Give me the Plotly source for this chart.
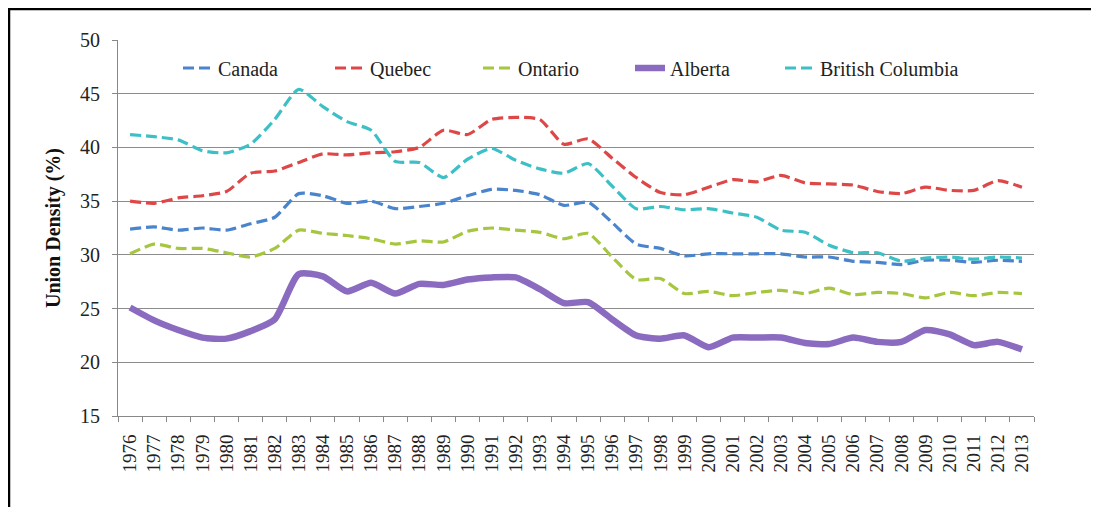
import plotly.graph_objects as go

years = [str(y) for y in range(1976, 2014)]

canada = [32.4, 32.6, 32.3, 32.5, 32.3, 32.9, 33.5, 35.7, 35.5, 34.8, 35.0, 34.3, 34.5, 34.8,
          35.5, 36.1, 36.0, 35.6, 34.6, 34.9, 33.0, 31.0, 30.6, 29.9, 30.1, 30.1, 30.1, 30.1,
          29.8, 29.8, 29.4, 29.3, 29.1, 29.5, 29.5, 29.3, 29.5, 29.4]
quebec = [35.0, 34.8, 35.3, 35.5, 35.9, 37.6, 37.8, 38.6, 39.4, 39.3, 39.5, 39.6, 40.0, 41.6,
          41.2, 42.6, 42.8, 42.6, 40.3, 40.8, 39.0, 37.2, 35.8, 35.6, 36.3, 37.0, 36.8, 37.4,
          36.7, 36.6, 36.5, 35.9, 35.7, 36.3, 36.0, 36.0, 36.9, 36.3]
ontario = [30.1, 31.0, 30.6, 30.6, 30.2, 29.8, 30.6, 32.3, 32.0, 31.8, 31.5, 31.0, 31.3, 31.2,
           32.2, 32.5, 32.3, 32.1, 31.5, 32.0, 29.8, 27.7, 27.8, 26.4, 26.6, 26.2, 26.5, 26.7,
           26.4, 26.9, 26.3, 26.5, 26.4, 26.0, 26.5, 26.2, 26.5, 26.4]
alberta = [25.1, 23.9, 23.0, 22.3, 22.2, 22.9, 24.0, 28.2, 28.0, 26.6, 27.4, 26.4, 27.3, 27.2,
           27.7, 27.9, 27.9, 26.8, 25.5, 25.6, 24.0, 22.5, 22.2, 22.5, 21.4, 22.3, 22.3, 22.3,
           21.8, 21.7, 22.3, 21.9, 21.9, 23.0, 22.6, 21.6, 21.9, 21.2]
bc = [41.2, 41.0, 40.7, 39.7, 39.5, 40.3, 42.6, 45.4, 43.8, 42.4, 41.6, 38.7, 38.6, 37.2,
      38.9, 39.9, 38.8, 38.0, 37.6, 38.5, 36.4, 34.3, 34.5, 34.2, 34.3, 33.9, 33.5, 32.3,
      32.1, 30.9, 30.2, 30.2, 29.4, 29.7, 29.8, 29.6, 29.8, 29.7]

series = [
    ("Canada", canada, "#4a84cc", 3.2, "11px,5px"),
    ("Quebec", quebec, "#de4747", 3.2, "11px,5px"),
    ("Ontario", ontario, "#a6c63f", 3.2, "11px,5px"),
    ("Alberta", alberta, "#8a6bbf", 6.5, "solid"),
    ("British Columbia", bc, "#3dbfc6", 3.2, "11px,5px"),
]

FONT = "Liberation Serif"

# page is offset by the body margin (8px); plot area in page px: x 118..1034, y 40..416
PL, PR, PT, PB = 118, 1034, 40, 416
OFF = 8
W, H = 1099 - OFF, 507 - OFF


def px_x(page_x):
    return (page_x - PL) / (PR - PL)


def px_y(page_y):
    return 1 - (page_y - PT) / (PB - PT)


legend_text_starts = [218, 370, 518, 670, 820]

fig = go.Figure()
legend_layouts = {}
for i, (name, vals, color, w, dash) in enumerate(series):
    key = "legend" if i == 0 else f"legend{i + 1}"
    fig.add_trace(go.Scatter(
        x=years, y=vals, name=name, mode="lines", legend=key,
        line=dict(color=color, width=w, dash=dash, shape="spline", smoothing=0.6),
    ))
    legend_layouts[key] = dict(
        x=px_x(legend_text_starts[i] - 40), y=px_y(68),
        xanchor="left", yanchor="middle", orientation="h",
        bgcolor="rgba(0,0,0,0)", borderwidth=0,
        font=dict(family=FONT, size=20, color="#222"),
    )

fig.update_layout(
    width=W, height=H,
    margin=dict(l=PL - OFF, r=W - (PR - OFF), t=PT - OFF, b=H - (PB - OFF)),
    paper_bgcolor="white", plot_bgcolor="white",
    font=dict(family=FONT, size=19, color="#222"),
    showlegend=True,
    xaxis=dict(
        type="category", range=[-0.5, 37.5],
        showgrid=False, showline=True, linecolor="#888", linewidth=1,
        ticks="outside", tickson="boundaries", ticklen=5, tickcolor="#888",
        tickangle=-90, tickfont=dict(family=FONT, size=19, color="#222"),
        ticklabelstandoff=10,
    ),
    yaxis=dict(
        range=[15, 50], tickvals=[15, 20, 25, 30, 35, 40, 45, 50],
        showgrid=True, gridcolor="#8c8c8c", gridwidth=1,
        showline=True, linecolor="#888", linewidth=1,
        ticks="outside", ticklen=5, tickcolor="#888",
        tickfont=dict(family=FONT, size=20, color="#222"),
        ticklabelstandoff=8,
        zeroline=False,
        title=dict(text="<b>Union Density (%)</b>", font=dict(family=FONT, size=20, color="#111"),
                   standoff=14),
    ),
    **legend_layouts,
)

# outer frame of the original figure (left and top edges visible)
fig.add_shape(type="rect", xref="paper", yref="paper",
              x0=px_x(9), x1=px_x(1120),
              y0=px_y(540), y1=px_y(9),
              line=dict(color="black", width=2.5), fillcolor="rgba(0,0,0,0)", layer="below")

fig.write_html("out.html")
